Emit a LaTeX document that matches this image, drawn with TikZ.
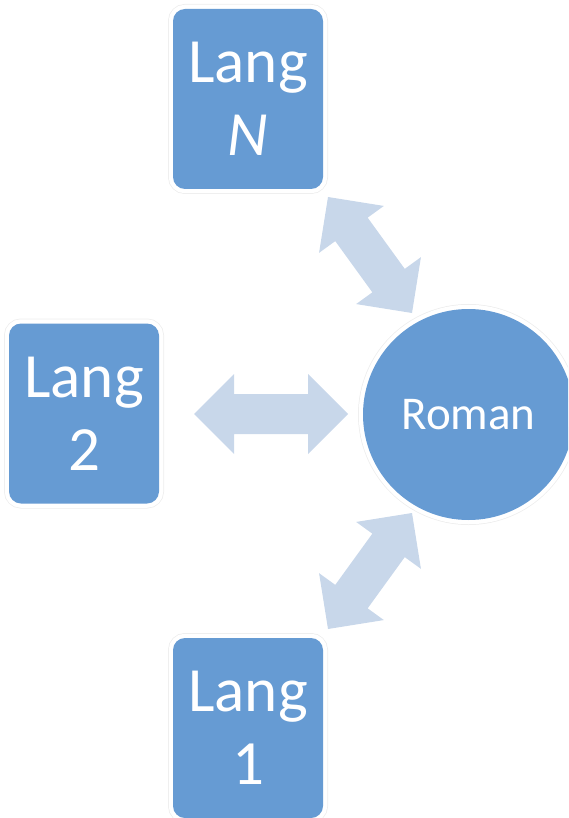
\documentclass[tikz,border=0pt]{standalone}
\usepackage{fontspec}
\setmainfont{Carlito}
\usetikzlibrary{calc}
\definecolor{boxblue}{RGB}{102,155,211}
\definecolor{arrowblue}{RGB}{200,215,234}
\tikzset{
  halo/.style={preaction={draw=black!7,line width=10pt},preaction={draw=white,line width=8.5pt}},
  langbox/.style={halo,fill=boxblue,rounded corners=12pt,minimum width=150pt,minimum height=180pt,
    text=white,align=center,inner sep=0pt,font=\fontsize{63}{73}\selectfont},
  romancircle/.style={halo,fill=boxblue,circle,minimum size=211pt,inner sep=0pt,
    text=white,font=\fontsize{47}{52}\selectfont},
  arrowfill/.style={fill=arrowblue}
}
\newcommand{\blockdbl}[3]{%
  \coordinate (#1a) at ($(#2)!40pt!(#3)$);
  \coordinate (#1b) at ($(#3)!40pt!(#2)$);
  \fill[arrowfill] (#2) -- ($(#1a)!40pt!90:(#3)$) -- ($(#1a)!20pt!90:(#3)$)
    -- ($(#1b)!20pt!-90:(#2)$) -- ($(#1b)!40pt!-90:(#2)$) -- (#3)
    -- ($(#1b)!40pt!90:(#2)$) -- ($(#1b)!20pt!90:(#2)$)
    -- ($(#1a)!20pt!-90:(#3)$) -- ($(#1a)!40pt!-90:(#3)$) -- cycle;}
\begin{document}
\begin{tikzpicture}[x=1pt,y=-1pt]
\useasboundingbox (0,0) rectangle (568,818);
\begin{scope}
\clip (0,0) rectangle (568,818);
\node[langbox] (langN) at (248,99) {Lang\\\textit{N}};
\node[langbox] (lang2) at (84,413.5) {Lang\\2};
\node[langbox] (lang1) at (248,728) {Lang\\1};
\node[romancircle] (roman) at (468.5,414.5) {Roman};
\end{scope}
\coordinate (h1) at (194,414);
\coordinate (h2) at (348,414);
\coordinate (u1) at (328,197);
\coordinate (u2) at (412,313);
\coordinate (d1) at (328,629);
\coordinate (d2) at (412,513);
\blockdbl{ha}{h1}{h2}
\blockdbl{ua}{u1}{u2}
\blockdbl{da}{d1}{d2}
\end{tikzpicture}
\end{document}
